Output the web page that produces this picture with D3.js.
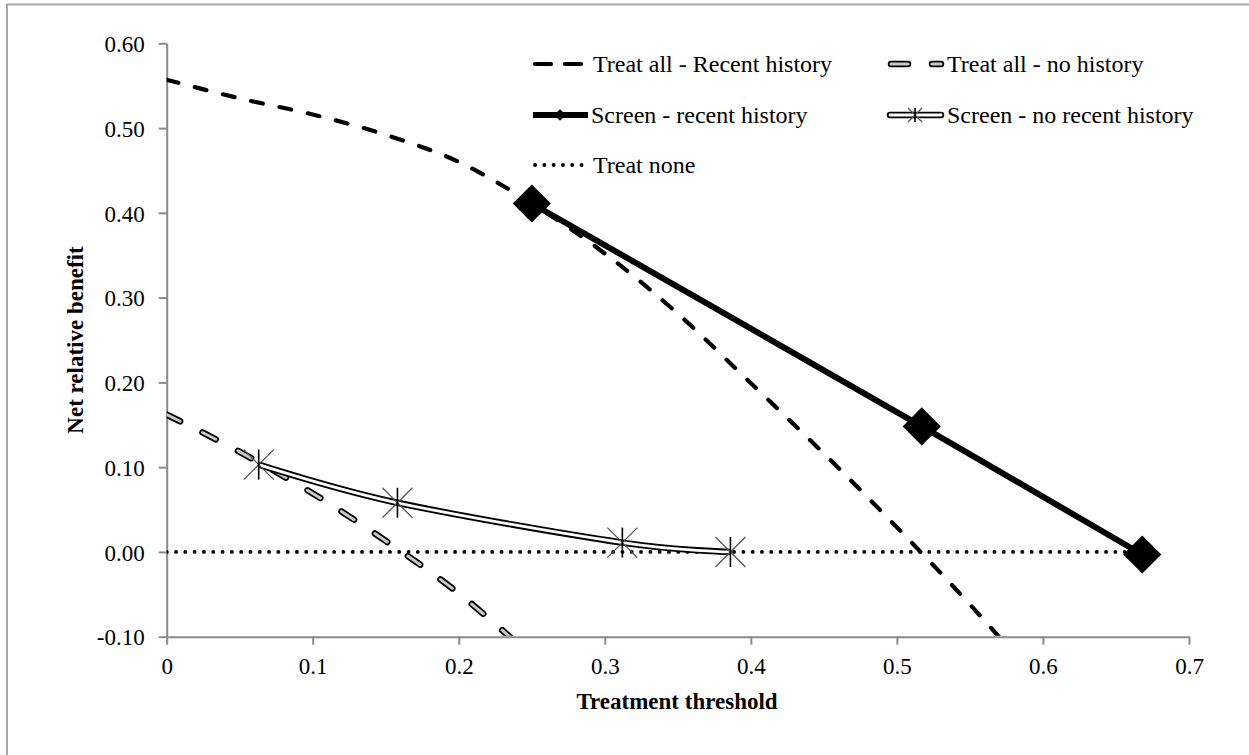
<!DOCTYPE html>
<html>
<head>
<meta charset="utf-8">
<script src="https://cdn.jsdelivr.net/npm/d3@7"></script>
<style>
  body { margin: 0; background: #fff; }
  text { font-family: "Liberation Serif", "Times New Roman", serif; fill: #000; }
</style>
</head>
<body>
<svg id="chart" width="1249" height="755"></svg>
<script>
// values
const treatAllRecentT = [0, 0.05, 0.1, 0.15, 0.2, 0.25, 0.3, 0.35, 0.4, 0.45, 0.5, 0.55, 0.575];
const treatAllRecentV = [0.557, 0.535, 0.516, 0.492, 0.46, 0.411, 0.352, 0.281, 0.199, 0.116, 0.029, -0.062, -0.11];
const treatAllNoHistT = [0, 0.05, 0.1, 0.15, 0.2, 0.24];
const treatAllNoHistV = [0.162, 0.118, 0.069, 0.013, -0.049, -0.108];
const screenRecentT = [0.25, 0.517, 0.668];
const screenRecentV = [0.411, 0.148, -0.003];
const screenNoRecentT = [0.063, 0.158, 0.312, 0.386];
const screenNoRecentV = [0.103, 0.058, 0.011, 0.0];
const treatNoneT = [0, 0.668];
const treatNoneV = [0, 0];
const xTicks = [0, 0.1, 0.2, 0.3, 0.4, 0.5, 0.6, 0.7];
const yTicks = [-0.1, 0, 0.1, 0.2, 0.3, 0.4, 0.5, 0.6];

const svg = d3.select('#chart');
const zip = (ts, vs) => ts.map((t, i) => [t, vs[i]]);

const x = d3.scaleLinear().domain([0, 0.7]).range([166.7, 1189]);
const y = d3.scaleLinear().domain([-0.1, 0.6]).range([636.7, 43.3]);
const AXIS = '#8a8a8a';

// outer frame
svg.append('rect')
  .attr('x', 7).attr('y', 4.5).attr('width', 1400).attr('height', 900)
  .attr('fill', 'none').attr('stroke', '#a6a6a6').attr('stroke-width', 2);

// axes
const yAxis = svg.append('g')
  .attr('transform', `translate(${x(0)},0)`)
  .call(d3.axisLeft(y).tickValues(yTicks).tickSize(8).tickSizeOuter(0).tickPadding(14)
    .tickFormat((d) => d3.format('.2f')(d).replace('\u2212', '-')));
const xAxis = svg.append('g')
  .attr('transform', `translate(0,${y(-0.1)})`)
  .call(d3.axisBottom(x).tickValues(xTicks).tickSize(8).tickSizeOuter(0).tickPadding(13)
    .tickFormat((d) => (d === 0 ? '0' : d3.format('.1f')(d))));
[xAxis, yAxis].forEach((g) => {
  g.attr('font-family', null);
  g.selectAll('path,line').attr('stroke', AXIS).attr('stroke-width', 2);
  g.selectAll('text').style('font-size', '23px').attr('fill', '#000');
});
yAxis.selectAll('text').attr('dy', '0.36em');

svg.append('text')
  .attr('x', 677).attr('y', 709).attr('text-anchor', 'middle')
  .style('font-size', '23px').style('font-weight', 'bold')
  .text('Treatment threshold');
svg.append('text')
  .attr('transform', 'translate(83,340) rotate(-90)').attr('text-anchor', 'middle')
  .style('font-size', '23px').style('font-weight', 'bold')
  .text('Net relative benefit');

// plot clip
svg.append('clipPath').attr('id', 'plot')
  .append('rect').attr('x', x(0)).attr('y', 0).attr('width', 1100).attr('height', y(-0.1) - 1);
const plot = svg.append('g').attr('clip-path', 'url(#plot)');

const smooth = d3.line().x((d) => x(d[0])).y((d) => y(d[1])).curve(d3.curveMonotoneX);
const cardinal = d3.line().x((d) => x(d[0])).y((d) => y(d[1])).curve(d3.curveCardinal.tension(0));

// treat none (dotted)
plot.append('path').attr('d', d3.line().x((d) => x(d[0])).y((d) => y(d[1]))(zip(treatNoneT, treatNoneV)))
  .attr('fill', 'none').attr('stroke', '#000').attr('stroke-width', 3.8)
  .attr('stroke-linecap', 'round').attr('stroke-dasharray', '0.1,9.2');

// treat all - recent history (dashed)
plot.append('path').attr('d', smooth(zip(treatAllRecentT, treatAllRecentV)))
  .attr('fill', 'none').attr('stroke', '#000').attr('stroke-width', 4.2)
  .attr('stroke-linecap', 'round').attr('stroke-dasharray', '12,17');

// treat all - no history (double dashed)
const noHistD = smooth(zip(treatAllNoHistT, treatAllNoHistV));
plot.append('path').attr('d', noHistD)
  .attr('fill', 'none').attr('stroke', '#000').attr('stroke-width', 6.5)
  .attr('stroke-linecap', 'round').attr('stroke-dasharray', '15,25');
plot.append('path').attr('d', noHistD)
  .attr('fill', 'none').attr('stroke', '#c8c8c8').attr('stroke-width', 3)
  .attr('stroke-linecap', 'round').attr('stroke-dasharray', '15,25');

// screen - no recent history (double solid + stars)
const noRecentD = cardinal(zip(screenNoRecentT, screenNoRecentV));
plot.append('path').attr('d', noRecentD)
  .attr('fill', 'none').attr('stroke', '#000').attr('stroke-width', 6.5);
plot.append('path').attr('d', noRecentD)
  .attr('fill', 'none').attr('stroke', '#fff').attr('stroke-width', 2.8);

function star(g, cx, cy, s) {
  g.append('line').attr('x1', cx - s).attr('y1', cy - s).attr('x2', cx + s).attr('y2', cy + s)
    .attr('stroke', '#555').attr('stroke-width', 1.3);
  g.append('line').attr('x1', cx - s).attr('y1', cy + s).attr('x2', cx + s).attr('y2', cy - s)
    .attr('stroke', '#555').attr('stroke-width', 1.3);
  g.append('line').attr('x1', cx).attr('y1', cy - s).attr('x2', cx).attr('y2', cy + s)
    .attr('stroke', '#000').attr('stroke-width', 1.6);
}
zip(screenNoRecentT, screenNoRecentV).forEach((d) => star(svg, x(d[0]), y(d[1]), 15));

// screen - recent history (thick solid + diamonds)
plot.append('path').attr('d', cardinal(zip(screenRecentT, screenRecentV)))
  .attr('fill', 'none').attr('stroke', '#000').attr('stroke-width', 6);
svg.selectAll('.diamond').data(zip(screenRecentT, screenRecentV)).enter()
  .append('path').attr('class', 'diamond')
  .attr('d', d3.symbol(d3.symbolSquare, 27 * 27)())
  .attr('transform', (d) => `translate(${x(d[0])},${y(d[1])}) rotate(45)`)
  .attr('fill', '#000');

// legend
const leg = svg.append('g').style('font-size', '24px');
function legText(tx, ty, label) {
  leg.append('text').attr('x', tx).attr('y', ty).attr('dy', '0.34em').text(label);
}
leg.append('line').attr('x1', 535).attr('x2', 585).attr('y1', 64).attr('y2', 64)
  .attr('stroke', '#000').attr('stroke-width', 4.2).attr('stroke-linecap', 'round')
  .attr('stroke-dasharray', '16,14');
legText(593, 64, 'Treat all - Recent history');

[[6.5, '#000'], [3, '#c8c8c8']].forEach(([w, c]) => {
  leg.append('line').attr('x1', 891).attr('x2', 941).attr('y1', 64).attr('y2', 64)
    .attr('stroke', c).attr('stroke-width', w).attr('stroke-linecap', 'round')
    .attr('stroke-dasharray', '17,24');
});
legText(947, 64, 'Treat all - no history');

leg.append('line').attr('x1', 533).attr('x2', 588).attr('y1', 115).attr('y2', 115)
  .attr('stroke', '#000').attr('stroke-width', 6);
leg.append('path').attr('d', d3.symbol(d3.symbolSquare, 64)())
  .attr('transform', 'translate(560,115) rotate(45)').attr('fill', '#000');
legText(591, 115, 'Screen - recent history');

leg.append('line').attr('x1', 890).attr('x2', 941).attr('y1', 115).attr('y2', 115)
  .attr('stroke', '#000').attr('stroke-width', 6.5).attr('stroke-linecap', 'round');
leg.append('line').attr('x1', 890).attr('x2', 941).attr('y1', 115).attr('y2', 115)
  .attr('stroke', '#fff').attr('stroke-width', 2.8).attr('stroke-linecap', 'round');
star(leg, 915, 115, 7);
legText(947, 115, 'Screen - no recent history');

leg.append('line').attr('x1', 535).attr('x2', 582).attr('y1', 165).attr('y2', 165)
  .attr('stroke', '#000').attr('stroke-width', 3.8).attr('stroke-linecap', 'round')
  .attr('stroke-dasharray', '0.1,9.2');
legText(593, 165, 'Treat none');
</script>
</body>
</html>
